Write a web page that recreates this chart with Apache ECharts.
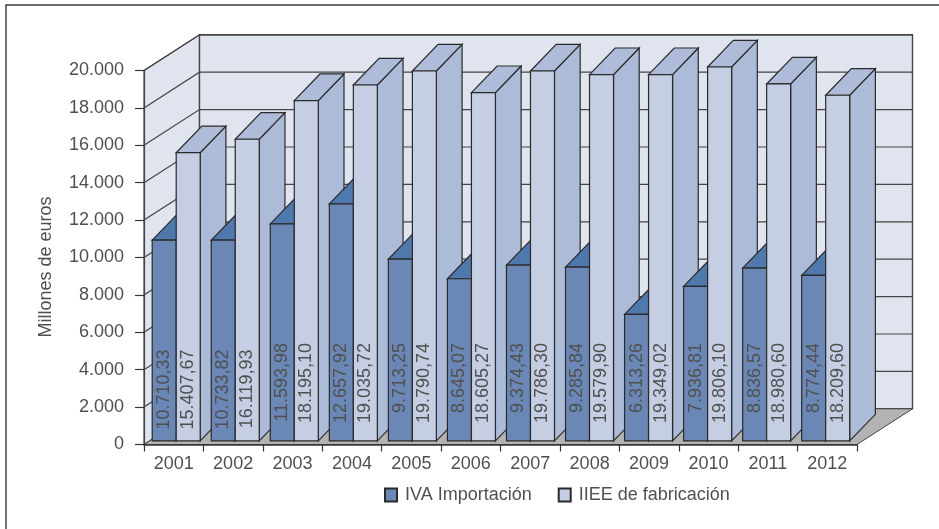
<!DOCTYPE html>
<html>
<head>
<meta charset="utf-8">
<style>html,body{margin:0;padding:0;background:#fff}#c{width:939px;height:529px}</style>
<script src="https://cdn.jsdelivr.net/npm/echarts@6/dist/echarts.min.js"></script>
</head>
<body>
<div id="c"></div>
<script>
const years = ['2001','2002','2003','2004','2005','2006','2007','2008','2009','2010','2011','2012'];
const yTicks = [0,2000,4000,6000,8000,10000,12000,14000,16000,18000,20000];
// bar heights
const ivaValues = [10735,10737,11608,12676,9722,8670,9402,9295,6768,8264,9241,8851];
const iieeValues = [15411,16132,18200,19033,19781,18627,19781,19589,19589,19995,19087,18483];
// numbers printed on the bars
const ivaLabels = ['10.710,33','10.733,82','11.593,98','12.657,92','9.713,25','8.645,07','9.374,43','9.285,84','6.313,26','7.936,81','8.836,57','8.774,44'];
const iieeLabels = ['15.407,67','16.119,93','18.195,10','19.035,72','19.790,74','18.605,27','19.786,30','19.579,90','19.349,02','19.806,10','18.980,60','18.209,60'];

const FONT = '"Liberation Sans", Arial, sans-serif';
const TEXT = '#505050';
const INK = '#2a2a2a';
const WALL_LINE = '#454545';
const WALL_DX = 55.5, WALL_DY = -35.7;
const BAR_DX = 25.7, BAR_DY = -26.6;
const BAR_W = 24;
const PLANE_DY = -3.6;
const colors = {
  iva: {front:'#6a87b5', top:'#4f79ad', side:'#4f79ad'},
  iiee:{front:'#c5cee2', top:'#aebcd9', side:'#acbbd8'}
};

function poly(points, fill, z2, stroke, lw){
  return {type:'polygon', z2:z2, shape:{points:points},
    style:{fill:fill, stroke:stroke||INK, lineWidth:lw===undefined?1.2:lw, lineJoin:'miter'}};
}
function renderWalls(params, api){
  const v = api.value(0);
  const p = api.coord([0, v]);
  const cs = params.coordSys;
  const x0 = cs.x, x1 = cs.x + cs.width, y = p[1];
  const bottom = cs.y + cs.height, top = cs.y;
  const kids = [];
  if (v === 0){
    kids.push(poly([[x0,top],[x0+WALL_DX,top+WALL_DY],[x0+WALL_DX,bottom+WALL_DY],[x0,bottom]],'#e0e4ef',1,WALL_LINE,1.2));
    kids.push(poly([[x0+WALL_DX,top+WALL_DY],[x1+WALL_DX,top+WALL_DY],[x1+WALL_DX,bottom+WALL_DY],[x0+WALL_DX,bottom+WALL_DY]],'#e0e4ef',1,WALL_LINE,1.4));
    kids.push(poly([[x0,bottom],[x1,bottom],[x1+WALL_DX,bottom+WALL_DY],[x0+WALL_DX,bottom+WALL_DY]],'#b3b3b3',2,WALL_LINE,1));
  }
  if (v !== 0){
    kids.push({type:'polyline', z2:3, shape:{points:[[x0,y],[x0+WALL_DX,y+WALL_DY],[x1+WALL_DX,y+WALL_DY]]},
      style:{fill:null, stroke:WALL_LINE, lineWidth:1.2}});
  }
  return {type:'group', children:kids};
}
function makeBars(key, sideSign, order, labels){
  return function(params, api){
    const i = api.value(0), v = api.value(1);
    const c = colors[key];
    const base = api.coord([i, 0]);
    const topPt = api.coord([i, v]);
    const shift = 2.5 - 4.1 * i / (years.length - 1);
    const mid = base[0] + shift;
    const xl = sideSign < 0 ? mid - BAR_W : mid;
    const xr = xl + BAR_W;
    const yb = base[1] + PLANE_DY;
    const yt = topPt[1] + PLANE_DY;
    const z = 10 + i * 4 + order;
    const labelTop = base[1] - (i < 2 ? 95 : 101.5);
    return {type:'group', children:[
      poly([[xr,yb],[xr+BAR_DX,yb+BAR_DY],[xr+BAR_DX,yt+BAR_DY],[xr,yt]], c.side, z),
      poly([[xl,yt],[xr,yt],[xr+BAR_DX,yt+BAR_DY],[xl+BAR_DX,yt+BAR_DY]], c.top, z),
      poly([[xl,yb],[xr,yb],[xr,yt],[xl,yt]], c.front, z+1),
      {type:'text', z2:z+1, x:(xl+xr)/2, y:labelTop, rotation:Math.PI/2,
        style:{text:labels[i], fill:TEXT, font:'18px '+FONT, textAlign:'right', textVerticalAlign:'middle'}}
    ]};
  };
}

const chart = echarts.init(document.getElementById('c'), null, {renderer:'canvas'});
chart.setOption({
  animation:false,
  backgroundColor:'#fff',
  graphic:[
    {type:'polyline', silent:true, shape:{points:[[6,529],[6,5],[939,5]]}, style:{fill:null, stroke:'#3a3a3a', lineWidth:1.4}}
  ],
  grid:{left:144, right:82, top:70.5, bottom:84.5, containLabel:false},
  legend:{
    left:384, top:486, padding:0, icon:'rect', itemWidth:12, itemHeight:13, itemGap:26, selectedMode:false,
    data:['IVA Importación','IIEE de fabricación'],
    textStyle:{fontFamily:FONT, fontSize:18, color:TEXT, padding:[0,0,0,3]}
  },
  xAxis:{
    type:'category', data:years, z:5,
    axisLine:{lineStyle:{color:'#333', width:1.6}},
    axisTick:{show:true, length:7, lineStyle:{color:'#333', width:1.2}},
    axisLabel:{fontFamily:FONT, fontSize:18, color:TEXT, margin:11, interval:0},
    splitLine:{show:false}
  },
  yAxis:{
    type:'value', min:0, max:20000, interval:2000, z:5,
    name:'Millones de euros', nameLocation:'middle', nameGap:89,
    nameTextStyle:{fontFamily:FONT, fontSize:18, color:TEXT, padding:[0,19,0,0]},
    axisLine:{show:true, lineStyle:{color:'#444', width:1.2}},
    axisTick:{show:true, length:9, lineStyle:{color:'#333', width:1.2}},
    axisLabel:{fontFamily:FONT, fontSize:18, color:TEXT, margin:20,
      formatter:function(v){return String(v).replace(/\B(?=(\d{3})+$)/g,'.');}},
    splitLine:{show:false}
  },
  series:[
    {type:'custom', name:'walls', silent:true, z:2, clip:false, renderItem:renderWalls,
      encode:{y:0}, data:yTicks.map(function(v){return [v];})},
    {type:'custom', name:'IVA Importación', silent:true, z:3, clip:false,
      itemStyle:{color:colors.iva.front, borderColor:INK, borderWidth:1},
      renderItem:makeBars('iva',-1,0,ivaLabels), encode:{x:0,y:1},
      data:ivaValues.map(function(v,i){return [i,v];})},
    {type:'custom', name:'IIEE de fabricación', silent:true, z:3, clip:false,
      itemStyle:{color:colors.iiee.front, borderColor:INK, borderWidth:1},
      renderItem:makeBars('iiee',1,2,iieeLabels), encode:{x:0,y:1},
      data:iieeValues.map(function(v,i){return [i,v];})}
  ]
});
</script>
</body>
</html>
